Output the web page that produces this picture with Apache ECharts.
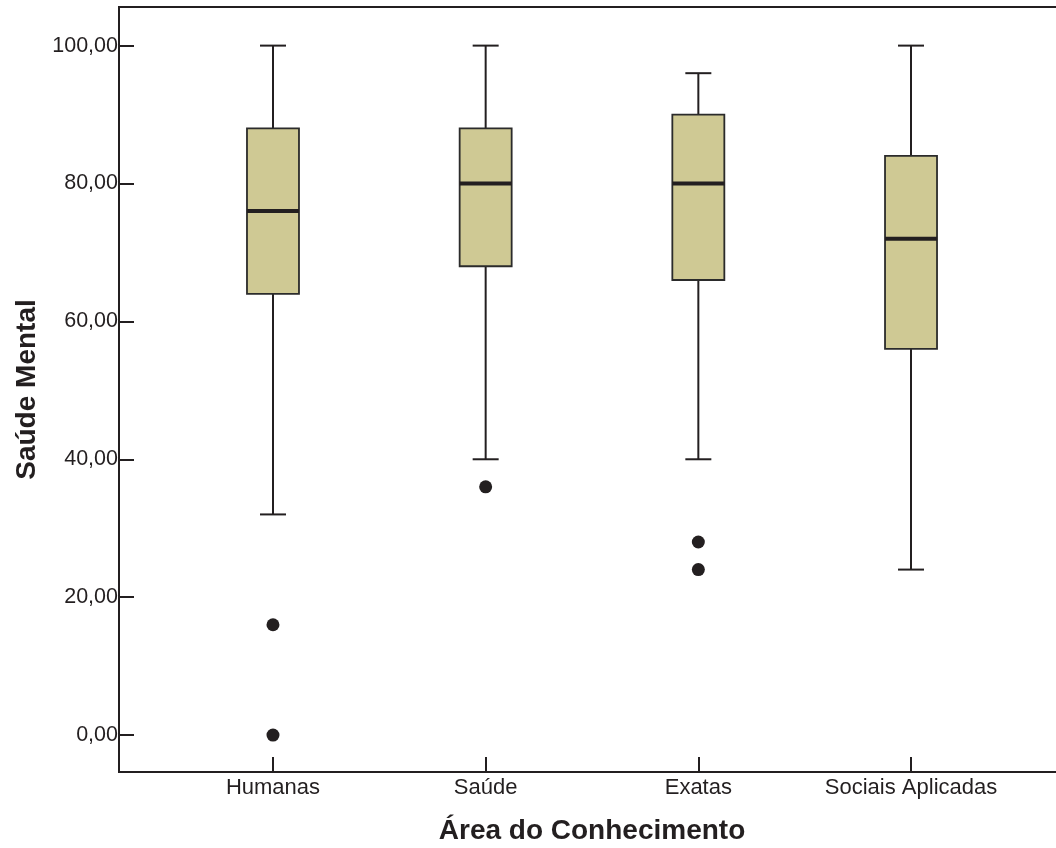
<!DOCTYPE html>
<html>
<head>
<meta charset="utf-8">
<script src="https://cdn.jsdelivr.net/npm/echarts@6/dist/echarts.min.js"></script>
<style>
  html, body { margin: 0; padding: 0; background: #fff; }
  #main { width: 1056px; height: 848px; }
</style>
</head>
<body>
<div id="main"></div>
<script>
// categorias e estatísticas (mín, Q1, mediana, Q3, máx)
const categories = ['Humanas', 'Saúde', 'Exatas', 'Sociais Aplicadas'];
const whiskerLow = [32, 40, 40, 24];
const q1 = [64, 68, 66, 56];
const median = [76, 80, 80, 72];
const q3 = [88, 88, 90, 84];
const whiskerHigh = [100, 100, 96, 100];
// outliers: [índice da categoria (1..4), valor]
const outliers = [[1, 16], [1, 0], [2, 36], [3, 28], [3, 24]];
const yTicks = [0, 20, 40, 60, 80, 100];

const ink = '#231f20';
const boxFill = '#cfc994';

const boxData = categories.map(function (c, i) {
    return [i + 1, whiskerLow[i], q1[i], median[i], q3[i], whiskerHigh[i]];
});

const chart = echarts.init(document.getElementById('main'));

function renderBox(params, api) {
    const x = api.value(0);
    const pLow = api.coord([x, api.value(1)]);
    const pQ1 = api.coord([x, api.value(2)]);
    const pMed = api.coord([x, api.value(3)]);
    const pQ3 = api.coord([x, api.value(4)]);
    const pHigh = api.coord([x, api.value(5)]);
    const cx = pQ1[0];
    const hw = 26, cw = 13;
    const lineStyle = { stroke: ink, lineWidth: 2 };
    return {
        type: 'group',
        children: [
            { type: 'line', shape: { x1: cx, y1: pHigh[1], x2: cx, y2: pQ3[1] }, style: lineStyle },
            { type: 'line', shape: { x1: cx, y1: pQ1[1], x2: cx, y2: pLow[1] }, style: lineStyle },
            { type: 'line', shape: { x1: cx - cw, y1: pHigh[1], x2: cx + cw, y2: pHigh[1] }, style: lineStyle },
            { type: 'line', shape: { x1: cx - cw, y1: pLow[1], x2: cx + cw, y2: pLow[1] }, style: lineStyle },
            {
                type: 'rect',
                shape: { x: cx - hw, y: pQ3[1], width: hw * 2, height: pQ1[1] - pQ3[1] },
                style: { fill: boxFill, stroke: '#2b2b2b', lineWidth: 1.8 }
            },
            { type: 'line', shape: { x1: cx - hw, y1: pMed[1], x2: cx + hw, y2: pMed[1] }, style: { stroke: ink, lineWidth: 4 } }
        ]
    };
}

const option = {
    backgroundColor: '#fff',
    animation: false,
    grid: {
        left: 119,
        top: 7,
        width: 946,
        height: 765,
        outerBoundsMode: 'none',
        containLabel: false,
        show: true,
        borderColor: ink,
        borderWidth: 2,
        backgroundColor: 'transparent'
    },
    xAxis: {
        type: 'value',
        min: 0.276,
        max: 4.724,
        name: 'Área do Conhecimento',
        nameLocation: 'middle',
        nameGap: 45,
        nameTextStyle: { fontFamily: 'Liberation Sans', fontSize: 28, fontWeight: 'bold', color: ink },
        axisLine: { show: true, onZero: false, lineStyle: { color: ink, width: 2 } },
        axisTick: { show: true, inside: true, length: 15, customValues: [1, 2, 3, 4], lineStyle: { color: ink, width: 2 } },
        axisLabel: {
            customValues: [1, 2, 3, 4],
            margin: 5,
            fontFamily: 'Liberation Sans',
            fontSize: 22,
            color: ink,
            formatter: function (v) { return categories[Math.round(v) - 1]; }
        },
        splitLine: { show: false }
    },
    yAxis: {
        type: 'value',
        min: -5.36,
        max: 105.6,
        name: 'Saúde Mental',
        nameLocation: 'middle',
        nameGap: 72,
        nameTextStyle: { fontFamily: 'Liberation Sans', fontSize: 28, fontWeight: 'bold', color: ink },
        axisLine: { show: true, onZero: false, lineStyle: { color: ink, width: 2 } },
        axisTick: { show: true, inside: true, length: 15, customValues: yTicks, lineStyle: { color: ink, width: 2 } },
        axisLabel: {
            customValues: yTicks,
            margin: 1,
            fontFamily: 'Liberation Sans',
            fontSize: 21.5,
            color: ink,
            formatter: function (v) { return v.toFixed(2).replace('.', ','); }
        },
        splitLine: { show: false }
    },
    series: [
        {
            type: 'custom',
            renderItem: renderBox,
            data: boxData,
            encode: { x: 0, y: [1, 2, 3, 4, 5] },
            silent: true
        },
        {
            type: 'scatter',
            data: outliers,
            symbol: 'circle',
            symbolSize: 13,
            itemStyle: { color: ink, opacity: 1 },
            silent: true
        }
    ]
};

chart.setOption(option);
</script>
</body>
</html>
